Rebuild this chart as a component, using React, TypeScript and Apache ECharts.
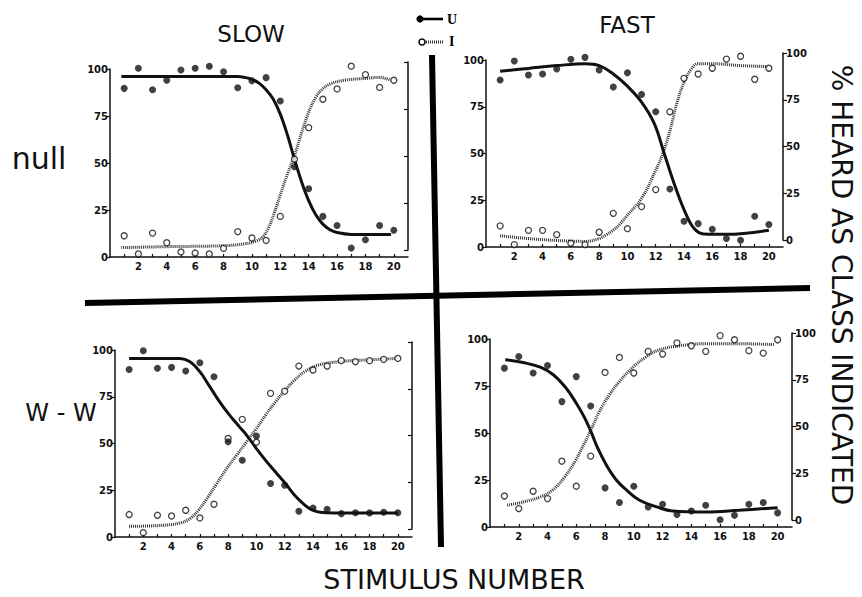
import React, { useEffect, useRef } from "react";
import * as echarts from "echarts";

// ---------- data ----------
const STIMULI = [1, 2, 3, 4, 5, 6, 7, 8, 9, 10, 11, 12, 13, 14, 15, 16, 17, 18, 19, 20];
const X_LABELS = [2, 4, 6, 8, 10, 12, 14, 16, 18, 20];
const Y_TICKS = [0, 25, 50, 75, 100];

// null / SLOW
const nullSlowU = [89.7, 100.4, 89, 94, 99.5, 100.4, 101.5, 98.5, 90, 93.7, 95.4, 83, 48, 36.3, 21.6, 16.8, 4.8, 9.2, 16.8, 14.2];
const nullSlowI = [11.3, 1.6, 12.7, 7.6, 2.7, 2.1, 1.6, 4.6, 13.5, 10.1, 8.8, 21.6, 52, 68.8, 83.9, 89.4, 101.5, 97, 90.2, 94];
const nullSlowUFit = [[0.8, 96], [9, 96], [9.5, 95.5], [10, 94.5], [10.5, 92.5], [11, 89], [11.5, 84], [12, 76], [12.5, 65], [13, 52], [13.5, 40], [14, 30], [14.5, 22.5], [15, 17.5], [15.5, 14.5], [16, 13], [17, 12], [18, 12], [19.8, 12]];
const nullSlowIFit = [[0.8, 5], [4, 5.5], [8, 6], [9.5, 7], [10.3, 8.5], [10.8, 11], [11.2, 16], [11.6, 24], [12, 33], [12.5, 44], [13, 54], [13.5, 66], [14, 77], [14.5, 85], [15, 89.5], [15.5, 92], [16.5, 94], [18, 95], [19, 95.5], [19.8, 94]];

// null / FAST
const nullFastU = [89.3, 99.5, 92, 92.5, 95.2, 100.4, 101.4, 94.7, 85.6, 93.2, 81.6, 72.3, 31, 13.8, 12.5, 9.5, 4.5, 3.6, 16.4, 12];
const nullFastI = [11.3, 1.3, 8.9, 8.9, 6.6, 2, 1.3, 7.9, 18, 9.8, 21.6, 30.7, 72.3, 90.2, 92.5, 95.6, 100.5, 102, 89.7, 95.6];
const nullFastUFit = [[1, 94], [3, 95.5], [5, 97], [7, 98], [8, 97], [9, 92.5], [10, 86], [11, 77.5], [11.9, 66], [12.6, 50], [13.3, 34], [14, 20], [14.7, 10], [15.4, 7], [17, 6.8], [20, 9]];
const nullFastIFit = [[1, 6], [3, 4.5], [5, 3.5], [7, 3], [8, 4.5], [8.5, 6.5], [9, 9], [9.5, 12.5], [10, 17], [11, 26], [12, 41], [12.5, 50], [13, 62], [13.5, 77], [14, 88], [14.5, 95], [15, 98], [16, 98], [18, 97], [20, 96.5]];

// W-W / SLOW
const wwSlowU = [89.6, 99.6, 90.2, 90.7, 88.75, 93.2, 85.7, 50.9, 41, 54, 28.6, 27.7, 13.75, 15.5, 14.8, 12.5, 13, 12.9, 13.2, 13];
const wwSlowI = [12, 2.3, 11.6, 11.25, 14.3, 10.2, 17.5, 52.7, 62.9, 50.7, 76.8, 78, 91.4, 89.3, 91.4, 94.3, 93.75, 94.3, 95, 95.5];
const wwSlowUFit = [[1, 95.5], [4.6, 95.5], [5.3, 93.75], [6, 88.4], [6.7, 80.4], [7.4, 72.3], [8.1, 65.2], [8.8, 58.9], [9.3, 54.5], [10, 47.3], [10.65, 41], [11.35, 34.8], [12.05, 28.6], [12.7, 22.3], [13.4, 17.2], [13.9, 14.6], [14.5, 13.2], [15.5, 12.9], [20, 12.9]];
const wwSlowIFit = [[1, 5.7], [3.4, 6.25], [4.6, 7.5], [5.3, 9.8], [5.9, 14.3], [6.5, 20.5], [7.2, 28.6], [7.9, 36.6], [8.6, 43.75], [9.3, 50.9], [10, 58], [10.65, 65.2], [11.35, 72.3], [12.05, 78.6], [12.7, 83.9], [13.4, 88.4], [14.4, 92], [15.8, 93.75], [17.6, 94.6], [20, 95.5]];

// W-W / FAST
const wwFastU = [84.5, 90.7, 81.9, 85.9, 66.7, 80, 64.4, 20.8, 13, 21.7, 10.7, 12.1, 6.6, 8.5, 11.6, 3.9, 6.2, 12.1, 13, 7.5];
const wwFastI = [16.5, 9.8, 19, 15.1, 35, 21.7, 37.7, 82.2, 90.2, 81.9, 93.4, 92, 97.9, 96.4, 93.4, 101.8, 99.6, 93.8, 92.5, 99.6];
const wwFastUFit = [[1.06, 89], [2.3, 87.5], [3.5, 85], [4.4, 81], [5.3, 73.8], [6, 65.8], [6.6, 57.8], [7.07, 49.8], [7.5, 41.8], [8.1, 32.9], [8.8, 24.9], [9.5, 19.6], [10.4, 14.2], [11.6, 10.7], [12.7, 8.5], [15, 8], [17.3, 8.9], [20, 10.3]];
const wwFastIFit = [[1.2, 11.6], [2.3, 13.3], [3.5, 16], [4.4, 19.9], [5.2, 26.7], [5.9, 34.7], [6.5, 43.6], [7.07, 52.5], [7.6, 61.4], [8.3, 70.3], [9, 77.4], [10, 85.4], [10.9, 90.7], [11.8, 94.3], [13.2, 96.4], [15, 97.5], [17.3, 97.5], [19.8, 97]];

const PANELS = [
  { u: nullSlowU, i: nullSlowI, uFit: nullSlowUFit, iFit: nullSlowIFit },
  { u: nullFastU, i: nullFastI, uFit: nullFastUFit, iFit: nullFastIFit },
  { u: wwSlowU, i: wwSlowI, uFit: wwSlowUFit, iFit: wwSlowIFit },
  { u: wwFastU, i: wwFastI, uFit: wwFastUFit, iFit: wwFastIFit },
];

// ---------- layout ----------
const MAIN_GRIDS = [
  { left: 110, top: 69, width: 298, height: 188 },
  { left: 486, top: 60, width: 297, height: 187 },
  { left: 115, top: 350, width: 297, height: 187 },
  { left: 490, top: 339, width: 302, height: 188 },
];
const RIGHT_GRIDS = [
  { left: 398, top: 62, width: 10, height: 188, labels: false },
  { left: 773, top: 53, width: 10, height: 187, labels: true },
  { left: 402, top: 342, width: 10, height: 187, labels: false },
  { left: 782, top: 333, width: 10, height: 187, labels: true },
];

const INK = "#111";
const TICK_FONT = { fontFamily: "DejaVu Sans", fontWeight: "bold" as const, fontSize: 10, color: INK };

function buildOption() {
  const grid: any[] = [];
  const xAxis: any[] = [];
  const yAxis: any[] = [];
  const series: any[] = [];

  MAIN_GRIDS.forEach((g, k) => {
    grid.push({ left: g.left, top: g.top, width: g.width, height: g.height, containLabel: false });
    xAxis.push({
      type: "value",
      gridIndex: k,
      min: 0,
      max: 21,
      axisLine: { show: true, lineStyle: { color: INK, width: 1.5 } },
      axisTick: { show: true, inside: true, length: 3, customValues: STIMULI, lineStyle: { color: INK, width: 1.2 } },
      axisLabel: { show: true, customValues: X_LABELS, margin: 4, ...TICK_FONT },
      splitLine: { show: false },
    });
    yAxis.push({
      type: "value",
      gridIndex: k,
      position: "left",
      min: 0,
      max: 100,
      interval: 25,
      axisLine: { show: true, onZero: false, lineStyle: { color: INK, width: 1.5 } },
      axisTick: { show: true, inside: false, length: 4, customValues: Y_TICKS, lineStyle: { color: INK, width: 1.2 } },
      axisLabel: { show: true, margin: 2, customValues: Y_TICKS, ...TICK_FONT },
      splitLine: { show: false },
    });
  });

  RIGHT_GRIDS.forEach((g, k) => {
    const gi = 4 + k;
    grid.push({ left: g.left, top: g.top, width: g.width, height: g.height });
    xAxis.push({ type: "value", gridIndex: gi, min: 0, max: 1, show: false });
    yAxis.push({
      type: "value",
      gridIndex: gi,
      position: "right",
      min: 0,
      max: 100,
      interval: 25,
      axisLine: { show: true, onZero: false, lineStyle: { color: INK, width: 1.5 } },
      axisTick: { show: true, inside: !g.labels, length: 4, lineStyle: { color: INK, width: 1.2 } },
      axisLabel: { show: g.labels, margin: 3, ...TICK_FONT },
      splitLine: { show: false },
    });
    series.push({ type: "scatter", xAxisIndex: gi, yAxisIndex: gi, data: [], silent: true });
  });

  PANELS.forEach((p, k) => {
    series.push({
      name: "I fit",
      type: "line",
      xAxisIndex: k,
      yAxisIndex: k,
      data: p.iFit,
      smooth: 0.4,
      showSymbol: false,
      silent: true,
      z: 2,
      lineStyle: { color: "#333", width: 3, type: [1, 1] },
    });
    series.push({
      name: "U fit",
      type: "line",
      xAxisIndex: k,
      yAxisIndex: k,
      data: p.uFit,
      smooth: 0.4,
      showSymbol: false,
      silent: true,
      z: 3,
      lineStyle: { color: INK, width: 3 },
    });
    series.push({
      name: "I",
      type: "scatter",
      xAxisIndex: k,
      yAxisIndex: k,
      clip: false,
      data: STIMULI.map((s, j) => [s, p.i[j]]),
      symbol: "circle",
      symbolSize: 6,
      z: 4,
      itemStyle: { color: "#fff", borderColor: INK, borderWidth: 1.3 },
    });
    series.push({
      name: "U",
      type: "scatter",
      xAxisIndex: k,
      yAxisIndex: k,
      clip: false,
      data: STIMULI.map((s, j) => [s, p.u[j]]),
      symbol: "circle",
      symbolSize: 7,
      z: 5,
      itemStyle: { color: INK },
    });
  });

  const bigFont = "DejaVu Sans";
  const graphic: any[] = [
    // thick dividing cross
    { type: "line", shape: { x1: 432, y1: 55, x2: 441, y2: 547 }, style: { stroke: "#000", lineWidth: 6 }, z: 1 },
    { type: "line", shape: { x1: 85, y1: 303, x2: 810, y2: 288 }, style: { stroke: "#000", lineWidth: 6 }, z: 1 },
    // legend
    { type: "circle", shape: { cx: 420, cy: 19, r: 3.6 }, style: { fill: "#000" } },
    { type: "line", shape: { x1: 420, y1: 19, x2: 443, y2: 19 }, style: { stroke: "#000", lineWidth: 2.6 } },
    { type: "text", x: 447, y: 19, style: { text: "U", font: "bold 14px 'Liberation Serif'", fill: "#000", verticalAlign: "middle", align: "left" } },
    { type: "circle", shape: { cx: 422, cy: 42, r: 3 }, style: { fill: "#fff", stroke: "#000", lineWidth: 1.5 } },
    { type: "line", shape: { x1: 426, y1: 42, x2: 443, y2: 42 }, style: { stroke: "#333", lineWidth: 3, lineDash: [1, 1] } },
    { type: "text", x: 449, y: 41, style: { text: "I", font: "bold 14px 'Liberation Serif'", fill: "#000", verticalAlign: "middle", align: "left" } },
    // titles
    { type: "text", x: 251, y: 34, style: { text: "SLOW", font: `23px '${bigFont}'`, fill: "#111", align: "center", verticalAlign: "middle" } },
    { type: "text", x: 627, y: 25, style: { text: "FAST", font: `23px '${bigFont}'`, fill: "#111", align: "center", verticalAlign: "middle" } },
    { type: "text", x: 39, y: 158, style: { text: "null", font: `30px '${bigFont}'`, fill: "#111", align: "center", verticalAlign: "middle" } },
    { type: "text", x: 61, y: 413, style: { text: "W - W", font: `24px '${bigFont}'`, fill: "#111", align: "center", verticalAlign: "middle" } },
    { type: "text", x: 454, y: 579, style: { text: "STIMULUS NUMBER", font: `27px '${bigFont}'`, fill: "#111", align: "center", verticalAlign: "middle" } },
    { type: "text", x: 841, y: 285, rotation: -Math.PI / 2, style: { text: "% HEARD AS CLASS INDICATED", font: `28px '${bigFont}'`, fill: "#111", align: "center", verticalAlign: "middle" } },
  ];

  return {
    animation: false,
    backgroundColor: "#fff",
    grid,
    xAxis,
    yAxis,
    series,
    graphic,
  };
}

export default function App() {
  const ref = useRef<HTMLDivElement | null>(null);
  useEffect(() => {
    document.body.style.margin = "0";
    if (!ref.current) return;
    const chart = echarts.init(ref.current, undefined, { renderer: "svg" });
    chart.setOption(buildOption() as any);
    return () => chart.dispose();
  }, []);
  return <div ref={ref} style={{ width: 862, height: 597 }} />;
}
